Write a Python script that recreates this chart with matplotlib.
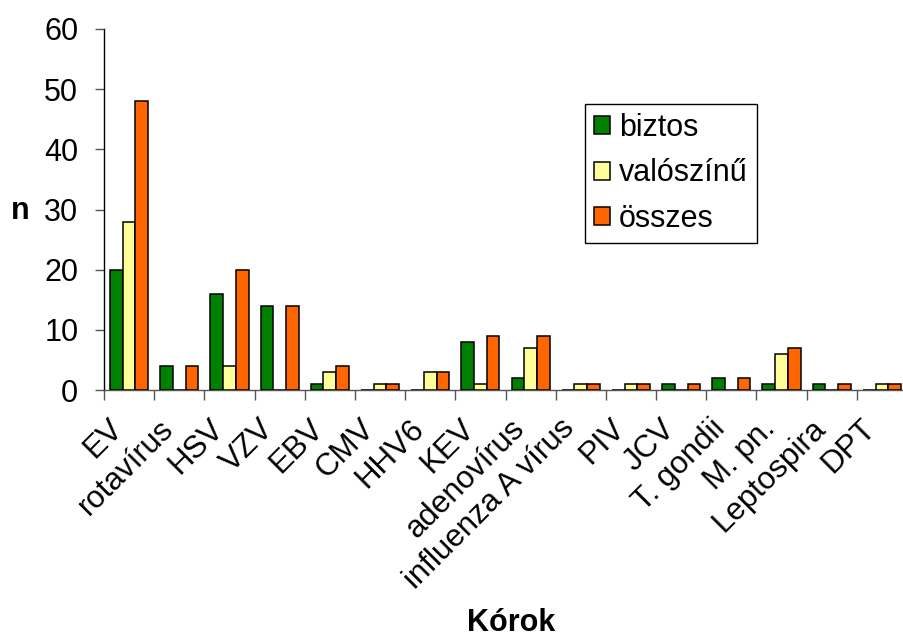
import matplotlib.pyplot as plt
import numpy as np

# Kórokozók és esetszámok
categories = ['EV', 'rotavírus', 'HSV', 'VZV', 'EBV', 'CMV', 'HHV6', 'KEV',
              'adenovírus', 'influenza A vírus', 'PIV', 'JCV', 'T. gondii',
              'M. pn.', 'Leptospira', 'DPT']
biztos    = [20, 4, 16, 14, 1, 0, 0, 8, 2, 0, 0, 1, 2, 1, 1, 0]
valoszinu = [28, 0, 4, 0, 3, 1, 3, 1, 7, 1, 1, 0, 0, 6, 0, 1]
osszes    = [48, 4, 20, 14, 4, 1, 3, 9, 9, 1, 1, 1, 2, 7, 1, 1]

series = [('biztos', biztos, '#008000'),
          ('valószínű', valoszinu, '#FFFF99'),
          ('összes', osszes, '#FF6600')]

plt.rcParams['font.family'] = ['Liberation Sans', 'DejaVu Sans']
FS = 22

fig = plt.figure(figsize=(9.04, 6.37), dpi=100)
ax = fig.add_axes([104 / 904, 1 - 390 / 637, 803 / 904, 361 / 637])

x = np.arange(len(categories)) + 0.5
w = 0.253
for k, (name, vals, col) in enumerate(series):
    ax.bar(x + (k - 1) * w, vals, width=w, color=col, edgecolor='black',
           linewidth=1.1, label=name, zorder=3)

ax.set_xlim(0, len(categories))
ax.set_ylim(0, 60)
ax.set_yticks(range(0, 61, 10))

# category boundaries as ticks, labels centred on categories
ax.set_xticks(np.arange(len(categories) + 1))
ax.set_xticklabels([])
ax.set_xticks(x, minor=True)
ax.set_xticklabels(categories, minor=True, rotation=45, ha='right', va='top',
                   fontsize=FS + 0.5)
ax.tick_params(axis='x', which='major', direction='out', length=7.2,
               width=1, color='#555555')
ax.tick_params(axis='x', which='minor', length=0, pad=17)
ax.tick_params(axis='y', direction='out', length=6.5, width=1,
               color='#555555', labelsize=FS, pad=12)

for s in ['top', 'right']:
    ax.spines[s].set_visible(False)
ax.spines['left'].set_color('black')
ax.spines['left'].set_linewidth(1)
ax.spines['bottom'].set_color('#555555')
ax.spines['bottom'].set_linewidth(1)

fig.text(20 / 904, 1 - 211 / 637, 'n', fontsize=FS, fontweight='bold',
         ha='center', va='center')
fig.text(511 / 904, 1 - 623 / 637, 'Kórok', fontsize=FS, fontweight='bold',
         ha='center', va='center')

leg = ax.legend(loc='upper left', bbox_to_anchor=((585 - 104) / 803, 1 - (104 - 29) / 361),
                fontsize=FS, frameon=True, fancybox=False, framealpha=1,
                edgecolor='black', handlelength=0.52, handleheight=0.52,
                handletextpad=0.3, labelspacing=0.5, borderpad=0.3,
                borderaxespad=0)
leg.get_frame().set_linewidth(1)

fig.savefig('out.png', dpi=100)
